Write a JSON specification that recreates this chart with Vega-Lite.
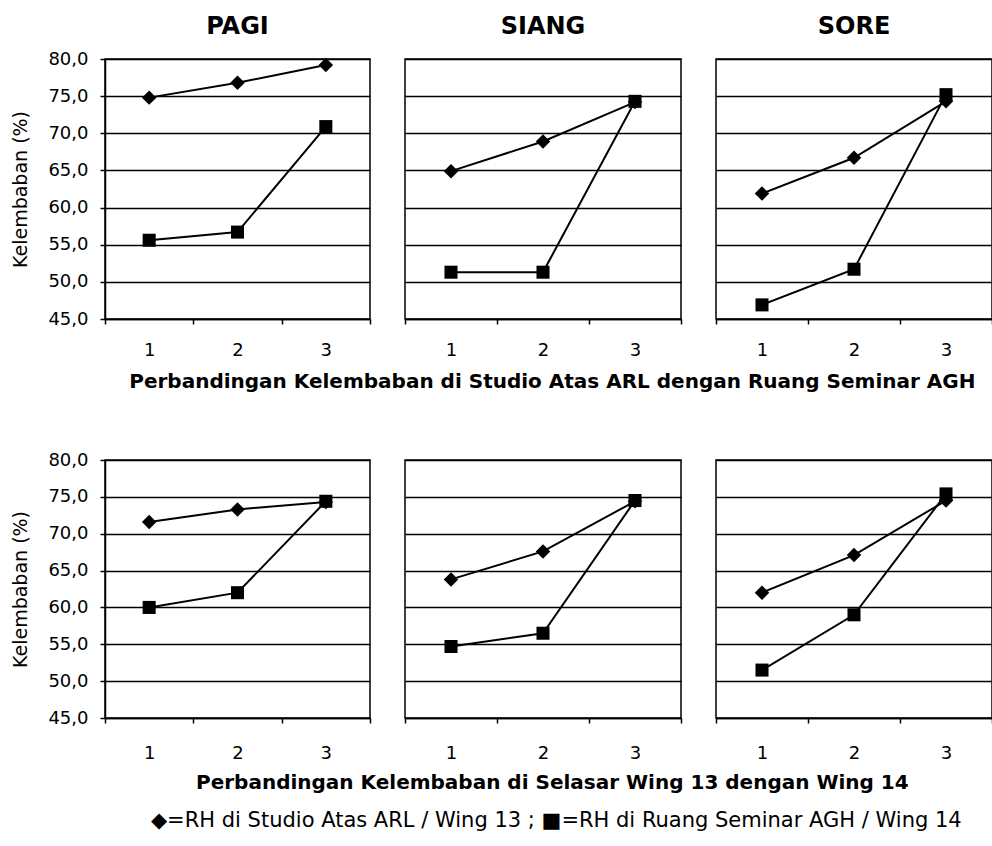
{
  "$schema": "https://vega.github.io/schema/vega-lite/v6.json",
  "padding": {"left": 11, "right": 0, "top": 14, "bottom": 8},
  "data": {"values": [
    {"row": "A", "col": "PAGI", "x": 1, "series": "ARL", "value": 74.8},
    {"row": "A", "col": "PAGI", "x": 2, "series": "ARL", "value": 76.8},
    {"row": "A", "col": "PAGI", "x": 3, "series": "ARL", "value": 79.2},
    {"row": "A", "col": "PAGI", "x": 1, "series": "AGH", "value": 55.6},
    {"row": "A", "col": "PAGI", "x": 2, "series": "AGH", "value": 56.7},
    {"row": "A", "col": "PAGI", "x": 3, "series": "AGH", "value": 70.9},
    {"row": "A", "col": "SIANG", "x": 1, "series": "ARL", "value": 64.9},
    {"row": "A", "col": "SIANG", "x": 2, "series": "ARL", "value": 68.9},
    {"row": "A", "col": "SIANG", "x": 3, "series": "ARL", "value": 74.2},
    {"row": "A", "col": "SIANG", "x": 1, "series": "AGH", "value": 51.3},
    {"row": "A", "col": "SIANG", "x": 2, "series": "AGH", "value": 51.3},
    {"row": "A", "col": "SIANG", "x": 3, "series": "AGH", "value": 74.3},
    {"row": "A", "col": "SORE", "x": 1, "series": "ARL", "value": 61.9},
    {"row": "A", "col": "SORE", "x": 2, "series": "ARL", "value": 66.7},
    {"row": "A", "col": "SORE", "x": 3, "series": "ARL", "value": 74.3},
    {"row": "A", "col": "SORE", "x": 1, "series": "AGH", "value": 46.9},
    {"row": "A", "col": "SORE", "x": 2, "series": "AGH", "value": 51.7},
    {"row": "A", "col": "SORE", "x": 3, "series": "AGH", "value": 75.2},
    {"row": "B", "col": "PAGI", "x": 1, "series": "ARL", "value": 71.6},
    {"row": "B", "col": "PAGI", "x": 2, "series": "ARL", "value": 73.3},
    {"row": "B", "col": "PAGI", "x": 3, "series": "ARL", "value": 74.3},
    {"row": "B", "col": "PAGI", "x": 1, "series": "AGH", "value": 60.0},
    {"row": "B", "col": "PAGI", "x": 2, "series": "AGH", "value": 62.0},
    {"row": "B", "col": "PAGI", "x": 3, "series": "AGH", "value": 74.4},
    {"row": "B", "col": "SIANG", "x": 1, "series": "ARL", "value": 63.8},
    {"row": "B", "col": "SIANG", "x": 2, "series": "ARL", "value": 67.6},
    {"row": "B", "col": "SIANG", "x": 3, "series": "ARL", "value": 74.4},
    {"row": "B", "col": "SIANG", "x": 1, "series": "AGH", "value": 54.7},
    {"row": "B", "col": "SIANG", "x": 2, "series": "AGH", "value": 56.5},
    {"row": "B", "col": "SIANG", "x": 3, "series": "AGH", "value": 74.5},
    {"row": "B", "col": "SORE", "x": 1, "series": "ARL", "value": 62.0},
    {"row": "B", "col": "SORE", "x": 2, "series": "ARL", "value": 67.1},
    {"row": "B", "col": "SORE", "x": 3, "series": "ARL", "value": 74.5},
    {"row": "B", "col": "SORE", "x": 1, "series": "AGH", "value": 51.5},
    {"row": "B", "col": "SORE", "x": 2, "series": "AGH", "value": 59.0},
    {"row": "B", "col": "SORE", "x": 3, "series": "AGH", "value": 75.4}
  ]},
  "title": {"text": "◆=RH di Studio Atas ARL / Wing 13 ; ■=RH di Ruang Seminar AGH / Wing 14", "orient": "bottom", "anchor": "middle", "fontSize": 21, "fontWeight": "normal", "offset": 17, "dx": 54},
  "spacing": 58,
  "vconcat": [
    {
      "title": {"text": "Perbandingan Kelembaban di Studio Atas ARL dengan Ruang Seminar AGH", "orient": "bottom", "anchor": "middle", "fontSize": 20, "fontWeight": "bold", "offset": 12, "dx": 50},
      "spacing": 31,
      "hconcat": [
        {
          "width": 265, "height": 260,
          "title": {"text": "PAGI"},
          "transform": [{"filter": "datum.row == 'A' && datum.col == 'PAGI'"}],
          "encoding": {
            "x": {"field": "x", "type": "ordinal", "bandPosition": 0.5, "scale": {"type": "band", "paddingInner": 0, "paddingOuter": 0}, "axis": {"title": null, "labelAngle": 0, "tickBand": "extent", "grid": false}},
            "y": {"field": "value", "type": "quantitative", "scale": {"domain": [45, 80], "nice": false, "zero": false}, "axis": {"values": [45, 50, 55, 60, 65, 70, 75, 80], "title": "Kelembaban (%)", "labelExpr": "replace(format(datum.value, '.1f'), '.', ',')"}}
          },
          "layer": [
            {"mark": {"type": "line", "color": "black", "strokeWidth": 2}, "encoding": {"detail": {"field": "series"}}},
            {"mark": {"type": "point", "filled": true, "color": "black", "opacity": 1}, "encoding": {"shape": {"field": "series", "scale": {"domain": ["ARL", "AGH"], "range": ["diamond", "square"]}, "legend": null}, "size": {"field": "series", "scale": {"domain": ["ARL", "AGH"], "range": [210, 170]}, "legend": null}}}
          ]
        },
        {
          "width": 276, "height": 260,
          "title": {"text": "SIANG", "offset": 20},
          "transform": [{"filter": "datum.row == 'A' && datum.col == 'SIANG'"}],
          "encoding": {
            "x": {"field": "x", "type": "ordinal", "bandPosition": 0.5, "scale": {"type": "band", "paddingInner": 0, "paddingOuter": 0}, "axis": {"title": null, "labelAngle": 0, "tickBand": "extent", "grid": false}},
            "y": {"field": "value", "type": "quantitative", "scale": {"domain": [45, 80], "nice": false, "zero": false}, "axis": {"values": [45, 50, 55, 60, 65, 70, 75, 80], "title": null, "labels": false, "ticks": false, "domain": false}}
          },
          "layer": [
            {"mark": {"type": "line", "color": "black", "strokeWidth": 2}, "encoding": {"detail": {"field": "series"}}},
            {"mark": {"type": "point", "filled": true, "color": "black", "opacity": 1}, "encoding": {"shape": {"field": "series", "scale": {"domain": ["ARL", "AGH"], "range": ["diamond", "square"]}, "legend": null}, "size": {"field": "series", "scale": {"domain": ["ARL", "AGH"], "range": [210, 170]}, "legend": null}}}
          ]
        },
        {
          "width": 276, "height": 260,
          "title": {"text": "SORE", "offset": 20},
          "transform": [{"filter": "datum.row == 'A' && datum.col == 'SORE'"}],
          "encoding": {
            "x": {"field": "x", "type": "ordinal", "bandPosition": 0.5, "scale": {"type": "band", "paddingInner": 0, "paddingOuter": 0}, "axis": {"title": null, "labelAngle": 0, "tickBand": "extent", "grid": false}},
            "y": {"field": "value", "type": "quantitative", "scale": {"domain": [45, 80], "nice": false, "zero": false}, "axis": {"values": [45, 50, 55, 60, 65, 70, 75, 80], "title": null, "labels": false, "ticks": false, "domain": false}}
          },
          "layer": [
            {"mark": {"type": "line", "color": "black", "strokeWidth": 2}, "encoding": {"detail": {"field": "series"}}},
            {"mark": {"type": "point", "filled": true, "color": "black", "opacity": 1}, "encoding": {"shape": {"field": "series", "scale": {"domain": ["ARL", "AGH"], "range": ["diamond", "square"]}, "legend": null}, "size": {"field": "series", "scale": {"domain": ["ARL", "AGH"], "range": [210, 170]}, "legend": null}}}
          ]
        }
      ]
    },
    {
      "title": {"text": "Perbandingan Kelembaban di Selasar Wing 13 dengan Wing 14", "orient": "bottom", "anchor": "middle", "fontSize": 20, "fontWeight": "bold", "offset": 10, "dx": 50},
      "spacing": 31,
      "hconcat": [
        {
          "width": 265, "height": 258,
          "transform": [{"filter": "datum.row == 'B' && datum.col == 'PAGI'"}],
          "encoding": {
            "x": {"field": "x", "type": "ordinal", "bandPosition": 0.5, "scale": {"type": "band", "paddingInner": 0, "paddingOuter": 0}, "axis": {"title": null, "labelAngle": 0, "tickBand": "extent", "grid": false, "labelPadding": 21}},
            "y": {"field": "value", "type": "quantitative", "scale": {"domain": [45, 80], "nice": false, "zero": false}, "axis": {"values": [45, 50, 55, 60, 65, 70, 75, 80], "title": "Kelembaban (%)", "labelExpr": "replace(format(datum.value, '.1f'), '.', ',')"}}
          },
          "layer": [
            {"mark": {"type": "line", "color": "black", "strokeWidth": 2}, "encoding": {"detail": {"field": "series"}}},
            {"mark": {"type": "point", "filled": true, "color": "black", "opacity": 1}, "encoding": {"shape": {"field": "series", "scale": {"domain": ["ARL", "AGH"], "range": ["diamond", "square"]}, "legend": null}, "size": {"field": "series", "scale": {"domain": ["ARL", "AGH"], "range": [210, 170]}, "legend": null}}}
          ]
        },
        {
          "width": 276, "height": 258,
          "transform": [{"filter": "datum.row == 'B' && datum.col == 'SIANG'"}],
          "encoding": {
            "x": {"field": "x", "type": "ordinal", "bandPosition": 0.5, "scale": {"type": "band", "paddingInner": 0, "paddingOuter": 0}, "axis": {"title": null, "labelAngle": 0, "tickBand": "extent", "grid": false, "labelPadding": 21}},
            "y": {"field": "value", "type": "quantitative", "scale": {"domain": [45, 80], "nice": false, "zero": false}, "axis": {"values": [45, 50, 55, 60, 65, 70, 75, 80], "title": null, "labels": false, "ticks": false, "domain": false}}
          },
          "layer": [
            {"mark": {"type": "line", "color": "black", "strokeWidth": 2}, "encoding": {"detail": {"field": "series"}}},
            {"mark": {"type": "point", "filled": true, "color": "black", "opacity": 1}, "encoding": {"shape": {"field": "series", "scale": {"domain": ["ARL", "AGH"], "range": ["diamond", "square"]}, "legend": null}, "size": {"field": "series", "scale": {"domain": ["ARL", "AGH"], "range": [210, 170]}, "legend": null}}}
          ]
        },
        {
          "width": 276, "height": 258,
          "transform": [{"filter": "datum.row == 'B' && datum.col == 'SORE'"}],
          "encoding": {
            "x": {"field": "x", "type": "ordinal", "bandPosition": 0.5, "scale": {"type": "band", "paddingInner": 0, "paddingOuter": 0}, "axis": {"title": null, "labelAngle": 0, "tickBand": "extent", "grid": false, "labelPadding": 21}},
            "y": {"field": "value", "type": "quantitative", "scale": {"domain": [45, 80], "nice": false, "zero": false}, "axis": {"values": [45, 50, 55, 60, 65, 70, 75, 80], "title": null, "labels": false, "ticks": false, "domain": false}}
          },
          "layer": [
            {"mark": {"type": "line", "color": "black", "strokeWidth": 2}, "encoding": {"detail": {"field": "series"}}},
            {"mark": {"type": "point", "filled": true, "color": "black", "opacity": 1}, "encoding": {"shape": {"field": "series", "scale": {"domain": ["ARL", "AGH"], "range": ["diamond", "square"]}, "legend": null}, "size": {"field": "series", "scale": {"domain": ["ARL", "AGH"], "range": [210, 170]}, "legend": null}}}
          ]
        }
      ]
    }
  ],
  "config": {
    "font": "DejaVu Sans",
    "view": {"stroke": "black", "strokeWidth": 1.5},
    "title": {"fontSize": 24, "fontWeight": "bold", "color": "black", "offset": 11, "font": "DejaVu Sans"},
    "axis": {
      "domainColor": "black", "domainWidth": 1.5, "tickColor": "black", "tickWidth": 1.5, "tickSize": 5,
      "labelColor": "black", "labelFontSize": 18, "labelFont": "DejaVu Sans",
      "titleColor": "black", "titleFontSize": 19, "titleFontWeight": "normal", "titleFont": "DejaVu Sans",
      "gridColor": "black", "gridWidth": 1.4, "gridOpacity": 1
    },
    "axisX": {"labelPadding": 17},
    "axisY": {"grid": true, "labelPadding": 12, "titlePadding": 17}
  }
}
